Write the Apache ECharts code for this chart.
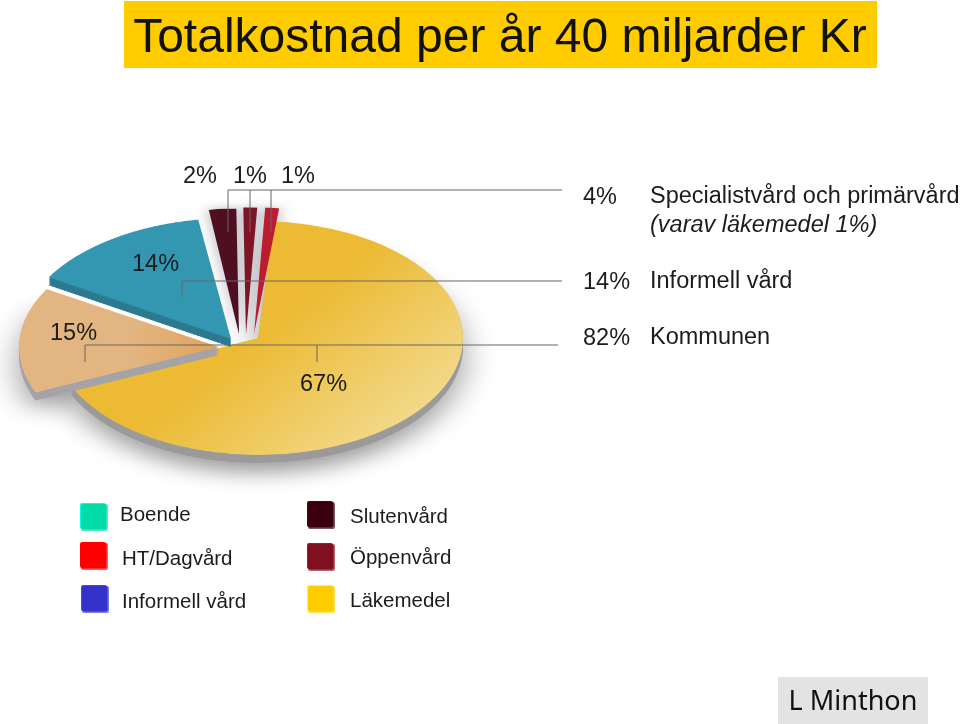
<!DOCTYPE html>
<html><head><meta charset="utf-8">
<script src="https://cdn.jsdelivr.net/npm/echarts@6/dist/echarts.min.js"></script>
<style>
html,body{margin:0;padding:0;background:#fff;overflow:hidden;width:960px;height:724px}
#wrap{position:relative;width:960px;height:724px;overflow:hidden}
#pie{position:absolute;left:0;top:0;width:960px;height:1270px;transform:scaleY(0.57);transform-origin:0 0}
#over{position:absolute;left:0;top:0;width:960px;height:724px}
</style></head><body>
<div id="wrap"><div id="pie"></div><div id="over"></div></div>
<script>
// ---- data ----
const sliceNames = ['Läkemedel','Boende','HT/Dagvård','Slutenvård','Öppenvård','Specialist'];
const sliceValues = [67,15,14,2,1,1];
const sliceLabels = ['67%','15%','14%','2%','1%','1%'];
const rowShares = ['4%','14%','82%'];
const rowNames = ['Specialistvård och primärvård','Informell vård','Kommunen'];
const rowNote = '(varav läkemedel 1%)';
const titleText = 'Totalkostnad per år 40 miljarder Kr';
const legendNames = ['Boende','HT/Dagvård','Informell vård','Slutenvård','Öppenvård','Läkemedel'];
const legendColors = ['#00dca8','#ff0000','#3333cc','#3a0010','#801020','#ffcc00'];
const credit = 'L Minthon';

// ---- style / layout ----
const SQ = 0.57, DEPTH = 8;
const grad = (a,b,x2,y2)=>new echarts.graphic.LinearGradient(0,0,x2,y2,[{offset:0,color:a},{offset:.55,color:a},{offset:1,color:b}]);
const faceColors = [grad('#ecba33','#f2da8c',1,.7),grad('#e3b681','#e0a35c',1,0),'#3397b2','#4f0f20','#7e1527','#bb1c2f'];
const sideColors = ['#9a9a9a','#a4a4a8','#2c7a90',null,null,null];
const centers = [[258,338],[219,347],[231,339],[239,334],[246,334],[254,334]];
const radii = [205,200,212,220,222,222];
const starts = [85.5,84.7,84.5,83.5,83.5,83.5];
const order = [0,1,2,3,4,5];

function slice(i,color,dy,extra){
  return {type:'pie',silent:true,animation:false,startAngle:starts[i],clockwise:true,avoidLabelOverlap:false,
    center:[centers[i][0],(centers[i][1]+dy)/SQ],radius:[0,radii[i]],
    label:{show:false},labelLine:{show:false},
    data:sliceValues.map((v,j)=>({value:v,name:sliceNames[j],
      itemStyle:j===i?Object.assign({color:color},extra||{}):{color:'rgba(0,0,0,0)'}}))};
}
const series=[];
[0,1].forEach(i=>series.push(slice(i,'#bbb',DEPTH,{shadowBlur:34,shadowColor:'rgba(0,0,0,0.38)',shadowOffsetY:18})));
[3,4,5].forEach(i=>series.push(slice(i,'#dddde2',0,{shadowBlur:16,shadowColor:'rgba(110,110,130,0.55)'})));
order.forEach(i=>{
  if(sideColors[i]) for(let d=DEPTH;d>0;d-=2) series.push(slice(i,sideColors[i],d));
  series.push(slice(i,faceColors[i],0));
});
echarts.init(document.getElementById('pie'),null,{renderer:'canvas'}).setOption({backgroundColor:'#fff',series});

// ---- overlay: title, leaders, texts, legend ----
const F='"Liberation Sans",Arial,sans-serif', INK='#1c1c1c', LINE='#666';
const g=[];
const T=(text,x,y,size,opt)=>g.push({type:'text',silent:true,z:20,style:Object.assign({text,x,y,fill:INK,font:size+'px '+F,verticalAlign:'middle',align:'left'},opt||{})});
const L=(x1,y1,x2,y2)=>g.push({type:'line',silent:true,z:10,shape:{x1,y1,x2,y2},style:{stroke:LINE,lineWidth:1}});
const R=(x,y,width,height,fill,r)=>g.push({type:'rect',silent:true,z:5,shape:{x,y,width,height,r:r||0},style:{fill}});

R(124,1,753,67,'#ffcc00');
T(titleText,500,39,48,{align:'center',fill:'#111'});

[228,250,271].forEach(x=>L(x,190,x,232));
L(228,190,562,190);
L(182,281,562,281); L(182,281,182,297);
L(85,345,558,345); L(85,345,85,362); L(317,345,317,362);

[[3,183,177],[4,233,177],[5,281,177],[2,132,265],[1,50,334],[0,300,385]].forEach(p=>T(sliceLabels[p[0]],p[1],p[2],23.5));
[198,283,339].forEach((y,i)=>T(rowShares[i],583,y,23.5));
[197,282,338].forEach((y,i)=>T(rowNames[i],650,y,23.5));
T(rowNote,650,225,23.5,{font:'italic 23.5px '+F});

const swatches=[[80,503],[80,542],[81,585],[307,501],[307,543],[307,585]];
const legendText=[[120,515],[122,559],[122,602],[350,517],[350,558],[350,601]];
legendNames.forEach((n,i)=>{
  const [x,y]=swatches[i], c=legendColors[i];
  g.push({type:'rect',silent:true,z:5,shape:{x:x+1,y:y+1,width:27,height:27,r:2},style:{fill:echarts.color.lift(c,0.35)}});
  g.push({type:'rect',silent:true,z:6,shape:{x:x,y:y,width:26,height:26,r:2},style:{fill:echarts.color.lift(c,-0.35)}});
  g.push({type:'rect',silent:true,z:7,shape:{x:x+1,y:y+1,width:25.5,height:25.5,r:2},style:{fill:c}});
  T(n,legendText[i][0],legendText[i][1],20.5);
});

R(778,677,150,47,'#e3e3e3');
T(credit,853,702,27,{align:'center',font:'27px "Noto Sans",sans-serif',fill:'#111'});

echarts.init(document.getElementById('over'),null,{renderer:'canvas'}).setOption({backgroundColor:'transparent',graphic:{elements:g}});
</script></body></html>
